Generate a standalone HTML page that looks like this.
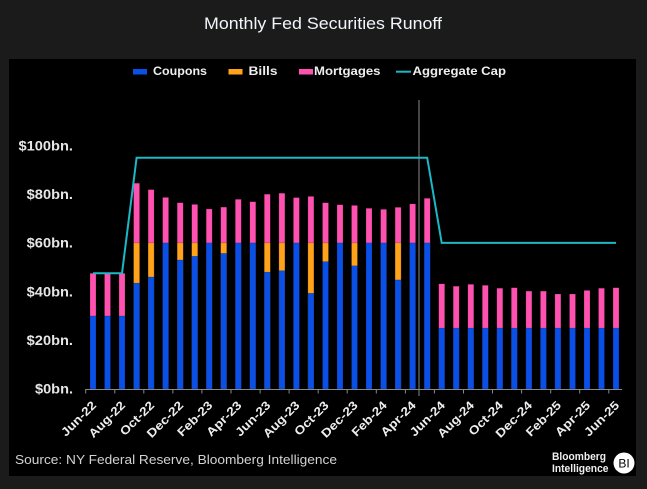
<!DOCTYPE html>
<html><head><meta charset="utf-8"><style>
html,body{margin:0;padding:0;background:#1b1b1b;}
svg{display:block;}
text{font-family:"Liberation Sans",sans-serif;}
</style></head><body>
<svg width="647" height="489" viewBox="0 0 647 489" xmlns="http://www.w3.org/2000/svg">
<rect x="0" y="0" width="647" height="489" fill="#1b1b1b"/>
<text x="323" y="29" font-size="17" fill="#f2f6fb" text-anchor="middle" textLength="238" lengthAdjust="spacingAndGlyphs">Monthly Fed Securities Runoff</text>
<rect x="9" y="59" width="627" height="417" fill="#000"/>

<!-- legend -->
<g font-size="12" font-weight="bold" fill="#eeeeee">
<rect x="133" y="69" width="14" height="5.5" fill="#0a4fe6"/>
<text x="153" y="75" textLength="54" lengthAdjust="spacingAndGlyphs">Coupons</text>
<rect x="228.5" y="69" width="14" height="5.5" fill="#ffa31a"/>
<text x="248.5" y="75" textLength="29" lengthAdjust="spacingAndGlyphs">Bills</text>
<rect x="299" y="69" width="14" height="5.5" fill="#ff52b0"/>
<text x="314" y="75" textLength="66.5" lengthAdjust="spacingAndGlyphs">Mortgages</text>
<line x1="396" y1="71.7" x2="411" y2="71.7" stroke="#1cb8c6" stroke-width="2"/>
<text x="412.5" y="75" textLength="93.5" lengthAdjust="spacingAndGlyphs">Aggregate Cap</text>
</g>

<!-- y labels -->
<g font-size="13.5" font-weight="bold" fill="#e6e6e6" text-anchor="end">
<text x="73" y="150.5" textLength="54.5" lengthAdjust="spacingAndGlyphs">$100bn.</text>
<text x="73" y="199" textLength="46.3" lengthAdjust="spacingAndGlyphs">$80bn.</text>
<text x="73" y="247.7" textLength="46.3" lengthAdjust="spacingAndGlyphs">$60bn.</text>
<text x="73" y="296.4" textLength="46.3" lengthAdjust="spacingAndGlyphs">$40bn.</text>
<text x="73" y="345" textLength="46.3" lengthAdjust="spacingAndGlyphs">$20bn.</text>
<text x="73" y="393.7" textLength="38" lengthAdjust="spacingAndGlyphs">$0bn.</text>
</g>

<!-- vertical marker -->
<line x1="419" y1="100" x2="419" y2="396" stroke="#8a8a8a" stroke-width="1"/>

<!-- bars: pink (full), orange, blue -->
<g stroke="#000" stroke-opacity="0.35" stroke-width="0.5">
<g fill="#ff52b0">
<rect x="90.0" y="273.3" width="6" height="115.7"/>
<rect x="104.5" y="273.3" width="6" height="115.7"/>
<rect x="119.0" y="273.3" width="6" height="115.7"/>
<rect x="133.6" y="183.2" width="6" height="205.8"/>
<rect x="148.1" y="189.6" width="6" height="199.4"/>
<rect x="162.6" y="197.4" width="6" height="191.6"/>
<rect x="177.2" y="202.7" width="6" height="186.3"/>
<rect x="191.7" y="204.4" width="6" height="184.6"/>
<rect x="206.2" y="209.0" width="6" height="180.0"/>
<rect x="220.7" y="207.1" width="6" height="181.9"/>
<rect x="235.3" y="199.3" width="6" height="189.7"/>
<rect x="249.8" y="201.7" width="6" height="187.3"/>
<rect x="264.3" y="194.2" width="6" height="194.8"/>
<rect x="278.9" y="193.2" width="6" height="195.8"/>
<rect x="293.4" y="197.6" width="6" height="191.4"/>
<rect x="307.9" y="196.4" width="6" height="192.6"/>
<rect x="322.5" y="202.7" width="6" height="186.3"/>
<rect x="337.0" y="204.7" width="6" height="184.3"/>
<rect x="351.5" y="205.4" width="6" height="183.6"/>
<rect x="366.0" y="208.3" width="6" height="180.7"/>
<rect x="380.6" y="209.3" width="6" height="179.7"/>
<rect x="395.1" y="207.3" width="6" height="181.7"/>
<rect x="409.6" y="203.9" width="6" height="185.1"/>
<rect x="424.2" y="198.3" width="6" height="190.7"/>
<rect x="438.7" y="283.8" width="6" height="105.2"/>
<rect x="453.2" y="286.2" width="6" height="102.8"/>
<rect x="467.8" y="284.3" width="6" height="104.7"/>
<rect x="482.3" y="285.3" width="6" height="103.7"/>
<rect x="496.8" y="288.2" width="6" height="100.8"/>
<rect x="511.3" y="287.7" width="6" height="101.3"/>
<rect x="525.9" y="291.1" width="6" height="97.9"/>
<rect x="540.4" y="291.1" width="6" height="97.9"/>
<rect x="554.9" y="294.0" width="6" height="95.0"/>
<rect x="569.5" y="294.0" width="6" height="95.0"/>
<rect x="584.0" y="290.4" width="6" height="98.6"/>
<rect x="598.5" y="288.2" width="6" height="100.8"/>
<rect x="613.0" y="287.7" width="6" height="101.3"/>
</g>
<g fill="#ffa31a">
<rect x="133.6" y="242.9" width="6" height="146.1"/>
<rect x="148.1" y="242.9" width="6" height="146.1"/>
<rect x="177.2" y="242.9" width="6" height="146.1"/>
<rect x="191.7" y="242.9" width="6" height="146.1"/>
<rect x="220.7" y="242.9" width="6" height="146.1"/>
<rect x="264.3" y="242.9" width="6" height="146.1"/>
<rect x="278.9" y="242.9" width="6" height="146.1"/>
<rect x="307.9" y="242.9" width="6" height="146.1"/>
<rect x="322.5" y="242.9" width="6" height="146.1"/>
<rect x="351.5" y="242.9" width="6" height="146.1"/>
<rect x="395.1" y="242.9" width="6" height="146.1"/>
</g>
<g fill="#0a4fe6">
<rect x="90.0" y="316.0" width="6" height="73.0"/>
<rect x="104.5" y="316.0" width="6" height="73.0"/>
<rect x="119.0" y="316.0" width="6" height="73.0"/>
<rect x="133.6" y="283.1" width="6" height="105.9"/>
<rect x="148.1" y="277.0" width="6" height="112.0"/>
<rect x="162.6" y="242.9" width="6" height="146.1"/>
<rect x="177.2" y="260.0" width="6" height="129.0"/>
<rect x="191.7" y="256.3" width="6" height="132.7"/>
<rect x="206.2" y="242.9" width="6" height="146.1"/>
<rect x="220.7" y="253.4" width="6" height="135.6"/>
<rect x="235.3" y="242.9" width="6" height="146.1"/>
<rect x="249.8" y="242.9" width="6" height="146.1"/>
<rect x="264.3" y="272.1" width="6" height="116.9"/>
<rect x="278.9" y="270.7" width="6" height="118.3"/>
<rect x="293.4" y="242.9" width="6" height="146.1"/>
<rect x="307.9" y="293.3" width="6" height="95.7"/>
<rect x="322.5" y="261.6" width="6" height="127.4"/>
<rect x="337.0" y="242.9" width="6" height="146.1"/>
<rect x="351.5" y="265.8" width="6" height="123.2"/>
<rect x="366.0" y="242.9" width="6" height="146.1"/>
<rect x="380.6" y="242.9" width="6" height="146.1"/>
<rect x="395.1" y="279.9" width="6" height="109.1"/>
<rect x="409.6" y="242.9" width="6" height="146.1"/>
<rect x="424.2" y="242.9" width="6" height="146.1"/>
<rect x="438.7" y="328.1" width="6" height="60.9"/>
<rect x="453.2" y="328.1" width="6" height="60.9"/>
<rect x="467.8" y="328.1" width="6" height="60.9"/>
<rect x="482.3" y="328.1" width="6" height="60.9"/>
<rect x="496.8" y="328.1" width="6" height="60.9"/>
<rect x="511.3" y="328.1" width="6" height="60.9"/>
<rect x="525.9" y="328.1" width="6" height="60.9"/>
<rect x="540.4" y="328.1" width="6" height="60.9"/>
<rect x="554.9" y="328.1" width="6" height="60.9"/>
<rect x="569.5" y="328.1" width="6" height="60.9"/>
<rect x="584.0" y="328.1" width="6" height="60.9"/>
<rect x="598.5" y="328.1" width="6" height="60.9"/>
<rect x="613.0" y="328.1" width="6" height="60.9"/>
</g>
</g>

<!-- aggregate cap -->
<polyline points="93,273.3 122,273.3 136.6,157.7 427.2,157.7 441.7,242.9 616,242.9" fill="none" stroke="#1cb8c6" stroke-width="2"/>

<!-- x axis -->
<line x1="85.7" y1="389.5" x2="622" y2="389.5" stroke="#8a8a8a" stroke-width="1"/>
<g stroke="#8a8a8a" stroke-width="1">
<line x1="85.7" y1="389" x2="85.7" y2="393.5"/>
<line x1="114.8" y1="389" x2="114.8" y2="393.5"/>
<line x1="143.8" y1="389" x2="143.8" y2="393.5"/>
<line x1="172.9" y1="389" x2="172.9" y2="393.5"/>
<line x1="201.9" y1="389" x2="201.9" y2="393.5"/>
<line x1="231.0" y1="389" x2="231.0" y2="393.5"/>
<line x1="260.1" y1="389" x2="260.1" y2="393.5"/>
<line x1="289.1" y1="389" x2="289.1" y2="393.5"/>
<line x1="318.2" y1="389" x2="318.2" y2="393.5"/>
<line x1="347.2" y1="389" x2="347.2" y2="393.5"/>
<line x1="376.3" y1="389" x2="376.3" y2="393.5"/>
<line x1="405.4" y1="389" x2="405.4" y2="393.5"/>
<line x1="434.4" y1="389" x2="434.4" y2="393.5"/>
<line x1="463.5" y1="389" x2="463.5" y2="393.5"/>
<line x1="492.5" y1="389" x2="492.5" y2="393.5"/>
<line x1="521.6" y1="389" x2="521.6" y2="393.5"/>
<line x1="550.7" y1="389" x2="550.7" y2="393.5"/>
<line x1="579.7" y1="389" x2="579.7" y2="393.5"/>
<line x1="608.8" y1="389" x2="608.8" y2="393.5"/>
</g>

<!-- x labels -->
<g font-size="12" font-weight="bold" fill="#eeeeee" text-anchor="end">
<text transform="translate(97,406) rotate(-45)" textLength="44" lengthAdjust="spacingAndGlyphs">Jun-22</text>
<text transform="translate(126,406) rotate(-45)" textLength="46" lengthAdjust="spacingAndGlyphs">Aug-22</text>
<text transform="translate(155.1,406) rotate(-45)" textLength="43" lengthAdjust="spacingAndGlyphs">Oct-22</text>
<text transform="translate(184.2,406) rotate(-45)" textLength="46" lengthAdjust="spacingAndGlyphs">Dec-22</text>
<text transform="translate(213.2,406) rotate(-45)" textLength="44" lengthAdjust="spacingAndGlyphs">Feb-23</text>
<text transform="translate(242.3,406) rotate(-45)" textLength="44" lengthAdjust="spacingAndGlyphs">Apr-23</text>
<text transform="translate(271.3,406) rotate(-45)" textLength="44" lengthAdjust="spacingAndGlyphs">Jun-23</text>
<text transform="translate(300.4,406) rotate(-45)" textLength="46" lengthAdjust="spacingAndGlyphs">Aug-23</text>
<text transform="translate(329.5,406) rotate(-45)" textLength="43" lengthAdjust="spacingAndGlyphs">Oct-23</text>
<text transform="translate(358.5,406) rotate(-45)" textLength="46" lengthAdjust="spacingAndGlyphs">Dec-23</text>
<text transform="translate(387.6,406) rotate(-45)" textLength="44" lengthAdjust="spacingAndGlyphs">Feb-24</text>
<text transform="translate(416.6,406) rotate(-45)" textLength="44" lengthAdjust="spacingAndGlyphs">Apr-24</text>
<text transform="translate(445.7,406) rotate(-45)" textLength="44" lengthAdjust="spacingAndGlyphs">Jun-24</text>
<text transform="translate(474.8,406) rotate(-45)" textLength="46" lengthAdjust="spacingAndGlyphs">Aug-24</text>
<text transform="translate(503.8,406) rotate(-45)" textLength="43" lengthAdjust="spacingAndGlyphs">Oct-24</text>
<text transform="translate(532.9,406) rotate(-45)" textLength="46" lengthAdjust="spacingAndGlyphs">Dec-24</text>
<text transform="translate(561.9,406) rotate(-45)" textLength="44" lengthAdjust="spacingAndGlyphs">Feb-25</text>
<text transform="translate(591.0,406) rotate(-45)" textLength="44" lengthAdjust="spacingAndGlyphs">Apr-25</text>
<text transform="translate(620.0,406) rotate(-45)" textLength="44" lengthAdjust="spacingAndGlyphs">Jun-25</text>
</g>

<!-- footer -->
<text x="15" y="464" font-size="13" fill="#d2d2d2" textLength="322" lengthAdjust="spacingAndGlyphs">Source: NY Federal Reserve, Bloomberg Intelligence</text>
<g font-size="11" font-weight="bold" fill="#f0f0f0">
<text x="552" y="460" textLength="54" lengthAdjust="spacingAndGlyphs">Bloomberg</text>
<text x="552" y="472" textLength="56.5" lengthAdjust="spacingAndGlyphs">Intelligence</text>
</g>
<circle cx="624" cy="463" r="10.5" fill="#ffffff"/>
<text x="624" y="467.5" font-family="Liberation Mono, monospace" font-size="12" fill="#000" text-anchor="middle">BI</text>
</svg>
</body></html>
